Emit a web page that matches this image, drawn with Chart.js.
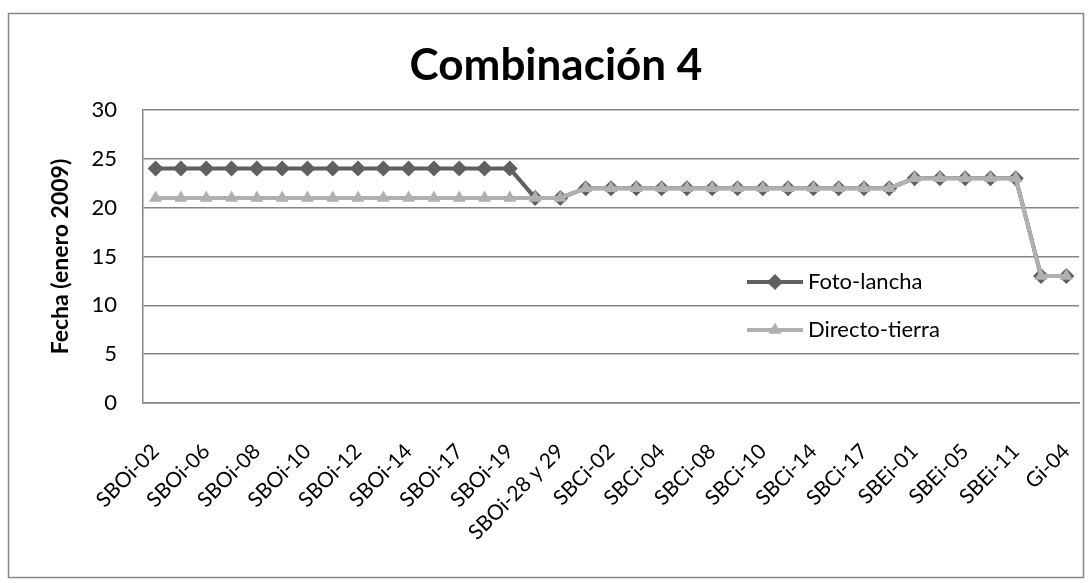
<!DOCTYPE html>
<html>
<head>
<meta charset="utf-8">
<script src="https://cdn.jsdelivr.net/npm/chart.js@4.4.1/dist/chart.umd.min.js"></script>
<style>
  html, body { margin: 0; padding: 0; background: #fff; }
  #wrap { width: 1090px; height: 583px; }
</style>
</head>
<body>
<div id="wrap"><canvas id="myChart" width="1090" height="583"></canvas></div>
<script>
// Sampling stations (only every other one carries a printed name)
const stations = [
  "SBOi-02", "", "SBOi-06", "", "SBOi-08", "", "SBOi-10", "", "SBOi-12", "",
  "SBOi-14", "", "SBOi-17", "", "SBOi-19", "", "SBOi-28 y 29", "", "SBCi-02", "",
  "SBCi-04", "", "SBCi-08", "", "SBCi-10", "", "SBCi-14", "", "SBCi-17", "",
  "SBEi-01", "", "SBEi-05", "", "SBEi-11", "", "Gi-04"
];

// Day of January 2009 for each station
const fotoLancha = [
  24, 24, 24, 24, 24, 24, 24, 24, 24, 24, 24, 24, 24, 24, 24,
  21, 21,
  22, 22, 22, 22, 22, 22, 22, 22, 22, 22, 22, 22, 22,
  23, 23, 23, 23, 23,
  13, 13
];
const directoTierra = [
  21, 21, 21, 21, 21, 21, 21, 21, 21, 21, 21, 21, 21, 21, 21, 21, 21,
  22, 22, 22, 22, 22, 22, 22, 22, 22, 22, 22, 22, 22,
  23, 23, 23, 23, 23,
  13, 13
];

const yTicks = [0, 5, 10, 15, 20, 25, 30];

const FONT = "Lato, 'Open Sans', sans-serif";
const DARK = "rgb(96,96,96)";
const LIGHT = "rgb(176,176,176)";
const GRID = "rgb(134,134,134)";

// Outer frame, title and the legend box sitting inside the plot
const decorations = {
  id: 'decorations',
  afterDraw(chart) {
    const ctx = chart.ctx;
    const area = chart.chartArea;
    ctx.save();
    ctx.strokeStyle = GRID;
    ctx.lineWidth = 1.5;
    ctx.strokeRect(8.5, 13.5, 1075, 564);

    ctx.fillStyle = '#000';
    ctx.font = "bold 44px " + FONT;
    ctx.textAlign = 'center';
    ctx.textBaseline = 'middle';
    ctx.fillText("Combinación 4", 556, 66);

    const items = [
      { label: "Foto-lancha", color: DARK, style: 'rectRot', radius: 8, y: area.top + 172 },
      { label: "Directo-tierra", color: LIGHT, style: 'triangle', radius: 7.5, y: area.top + 220 }
    ];
    const x0 = area.left + 604;
    items.forEach(it => {
      ctx.strokeStyle = it.color;
      ctx.lineWidth = 4;
      ctx.beginPath();
      ctx.moveTo(x0, it.y);
      ctx.lineTo(x0 + 56, it.y);
      ctx.stroke();
      ctx.fillStyle = it.color;
      Chart.helpers.drawPoint(ctx, { pointStyle: it.style, radius: it.radius, borderWidth: 0 }, x0 + 28, it.y);
      ctx.fillStyle = '#000';
      ctx.font = "22px " + FONT;
      ctx.textAlign = 'left';
      ctx.textBaseline = 'middle';
      ctx.fillText(it.label, x0 + 61, it.y);
    });
    ctx.restore();
  }
};

const ctx = document.getElementById('myChart').getContext('2d');
const myChart = new Chart(ctx, {
  type: 'line',
  data: {
    labels: stations,
    datasets: [
      {
        label: 'Foto-lancha',
        data: fotoLancha,
        borderColor: DARK,
        backgroundColor: DARK,
        borderWidth: 4,
        pointStyle: 'rectRot',
        pointRadius: 8,
        pointBorderWidth: 0,
        order: 1,
        fill: false,
      },
      {
        label: 'Directo-tierra',
        data: directoTierra,
        borderColor: LIGHT,
        backgroundColor: LIGHT,
        borderWidth: 4,
        pointStyle: 'triangle',
        pointRadius: 7.5,
        pointBorderWidth: 0,
        order: 0,
        fill: false,
      },
    ],
  },
  options: {
    responsive: false,
    animation: false,
    layout: {
      padding: { top: 110, left: 43, right: 11, bottom: 10 }
    },
    plugins: {
      legend: { display: false },
      title: { display: false },
      tooltip: { enabled: false }
    },
    scales: {
      x: {
        offset: true,
        grid: { display: false },
        border: { color: GRID, width: 1.5 },
        ticks: {
          autoSkip: false,
          minRotation: 45,
          maxRotation: 45,
          padding: 28,
          color: '#000',
          font: { family: FONT, size: 21 }
        },
        afterFit(scale) {
          scale.height = 170;
          scale.paddingLeft = 0;
          scale.paddingRight = 0;
        }
      },
      y: {
        min: 0,
        max: 30,
        afterBuildTicks(scale) { scale.ticks = yTicks.map(v => ({ value: v })); },
        grid: { color: GRID, lineWidth: 1.5, drawTicks: false },
        border: { color: GRID, width: 1.5 },
        ticks: {
          padding: 26,
          color: '#000',
          font: { family: FONT, size: 22 }
        },
        title: {
          display: true,
          text: 'Fecha (enero 2009)',
          color: '#000',
          font: { family: FONT, size: 23, weight: 'bold' }
        },
        afterFit(scale) { scale.width = 100; }
      }
    }
  },
  plugins: [decorations]
});
</script>
</body>
</html>
